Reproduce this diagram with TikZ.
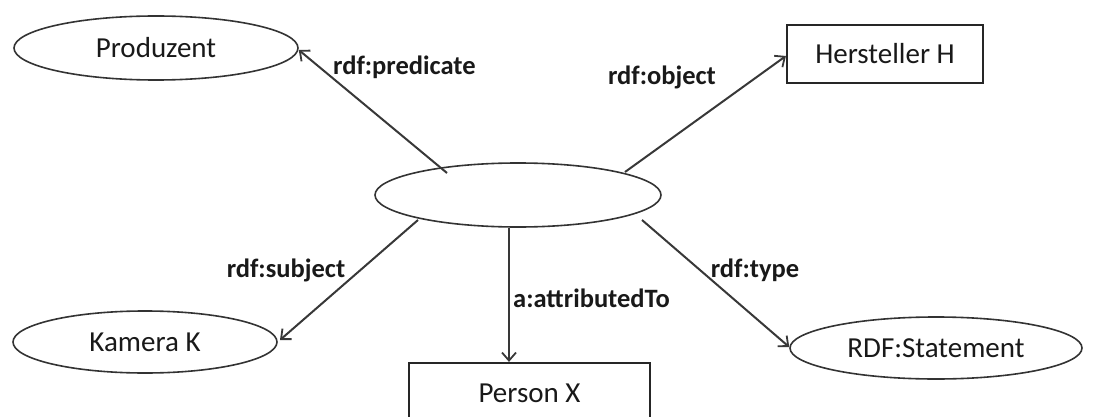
\documentclass[tikz,border=0pt]{standalone}
\usepackage{fontspec}
\setmainfont{Carlito}
\usetikzlibrary{arrows.meta,shapes.geometric}
\tikzset{
  res/.style={draw=black!80, line width=1.6pt, ellipse, inner sep=0pt},
  lit/.style={draw=black!85, line width=2.2pt, rectangle, inner sep=0pt},
  txt/.style={font=\fontsize{29}{31}\selectfont, text=black!90},
  rel/.style={draw=black!78, line width=2pt, -{Straight Barb[length=8pt,width=14pt,line width=1.8pt]}},
  lab/.style={font=\fontsize{26.5}{28}\selectfont\bfseries, text=black!90, inner sep=0pt}
}
\begin{document}
\begin{tikzpicture}[x=1pt,y=-1pt]
  \useasboundingbox (0,0) rectangle (1115,417);
  \clip (0,0) rectangle (1115,417);
  % central blank node
  \node[res, minimum width=286pt, minimum height=64pt] (st) at (518,195) {};
  % resources
  \node[res, minimum width=284pt, minimum height=64pt] (prod) at (156,48) {};
  \node[txt] at (prod.center) {Produzent};
  \node[res, minimum width=264pt, minimum height=62pt] (kam) at (145,342) {};
  \node[txt] at (kam.center) {Kamera K};
  \node[res, minimum width=292pt, minimum height=62pt] (rdfs) at (936,348) {};
  \node[txt] at (rdfs.center) {RDF:Statement};
  % literals
  \node[lit, minimum width=196pt, minimum height=58pt] (her) at (885,54) {};
  \node[txt] at (her.center) {Hersteller H};
  \node[lit, minimum width=241pt, minimum height=90pt] (pers) at (529.5,408) {};
  \node[txt] at (529.5,393) {Person X};
  % statement edges
  \coordinate (sp) at (447,173);
  \coordinate (so) at (625,172);
  \coordinate (ss) at (418,220);
  \coordinate (sa) at (509,228);
  \coordinate (sty) at (642,220);
  \draw[rel] (sp) -- (prod.east |- 0,50) coordinate (pe);
  \draw[rel] (so) -- (her.west |- 0,56);
  \draw[rel] (ss) -- (280,340) coordinate (ke);
  \draw[rel] (sa) -- (sa |- pers.north);
  \draw[rel] (sty) -- (rdfs.west |- 0,347);
  % edge labels
  \node[lab, anchor=west] (lp) at (333,67) {rdf:predicate};
  \node[lab] (lo) at (662,77) {rdf:object};
  \node[lab] (ls) at (286,270) {rdf:subject};
  \node[lab, anchor=west] (la) at (513,298) {a:attributedTo};
  \node[lab] (lt) at (755,270) {rdf:type};
\end{tikzpicture}
\end{document}
